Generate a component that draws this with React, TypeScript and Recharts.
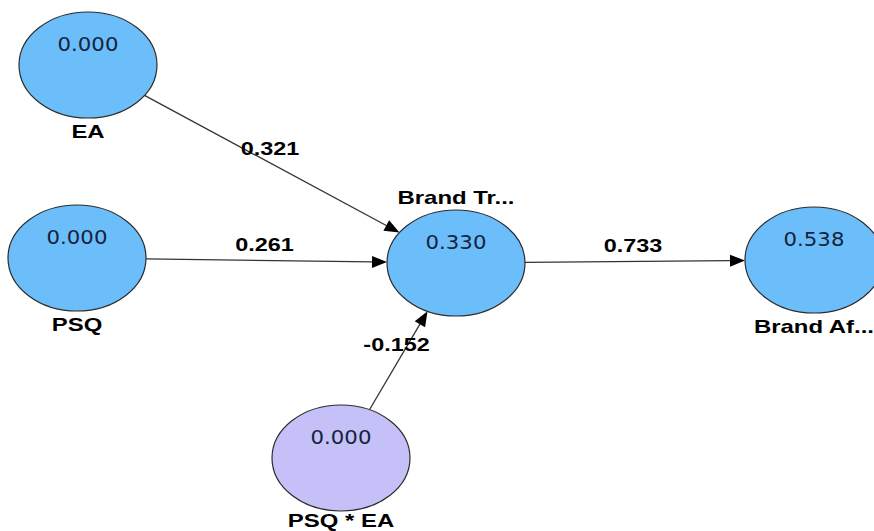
import { ScatterChart, Scatter, XAxis, YAxis, ReferenceLine } from "recharts";

const nodeNames = ["EA", "PSQ", "Brand Tr...", "Brand Af...", "PSQ * EA"];
const nodeValues = ["0.000", "0.000", "0.330", "0.538", "0.000"];
const nodeX = [88, 77, 456, 814, 341];
const nodeY = [65, 258, 263, 260, 458];
const labelAbove = [false, false, true, false, false];
const moderator = [false, false, false, false, true];

const edgeFrom = [0, 1, 2, 4];
const edgeTo = [2, 2, 3, 2];
const edgeCoef = ["0.321", "0.261", "0.733", "-0.152"];

const nodes = nodeNames.map((name, i) => ({
  name,
  value: nodeValues[i],
  x: nodeX[i],
  y: nodeY[i],
  above: labelAbove[i],
  mod: moderator[i],
}));

const RX = 69;
const RY = 53;
const BLUE = "#6cbefa";
const PURPLE = "#c5c1f8";

function Txt({ x, y, children, bold, fill, sx, size = 18 }: any) {
  return (
    <text
      transform={`translate(${x},${y}) scale(${sx},1)`}
      textAnchor="middle"
      fontFamily={bold ? "'Liberation Sans', Arial, sans-serif" : "'DejaVu Sans', Verdana, sans-serif"}
      fontWeight={bold ? 700 : 400}
      fontSize={size}
      fill={fill}
    >
      {children}
    </text>
  );
}

function NodeShape(props: any) {
  const { cx, cy, payload } = props;
  // keep the bottom label inside the picture
  const labelY = payload.above ? cy - 66 : Math.min(cy + 66, 520);
  return (
    <g>
      <ellipse cx={cx} cy={cy} rx={RX} ry={RY} fill={payload.mod ? PURPLE : BLUE} stroke="#2b2b2b" strokeWidth={1.2} />
      <Txt x={cx} y={cy - 21 + 7} fill="#15233c" sx={1.12} size={19}>
        {payload.value}
      </Txt>
      <Txt x={cx} y={labelY + 6.5} bold fill="#000" sx={1.33}>
        {payload.name}
      </Txt>
    </g>
  );
}

function trim(dx: number, dy: number) {
  const len = Math.hypot(dx, dy);
  const ux = dx / len;
  const uy = dy / len;
  const t = 1 / Math.sqrt((ux / RX) ** 2 + (uy / RY) ** 2);
  return { ux, uy, t };
}

function edgeShape(coef: string) {
  return (p: any) => {
    const { x1, y1, x2, y2 } = p;
    if (x1 == null) return null;
    const { ux, uy, t } = trim(x2 - x1, y2 - y1);
    const sx = x1 + ux * t;
    const sy = y1 + uy * t;
    const ex = x2 - ux * t;
    const ey = y2 - uy * t;
    const L = 15;
    const W = 6;
    const bx = ex - ux * L;
    const by = ey - uy * L;
    const head = `${ex},${ey} ${bx - uy * W},${by + ux * W} ${bx + uy * W},${by - ux * W}`;
    const mx = (x1 + x2) / 2;
    const my = (y1 + y2) / 2;
    return (
      <g>
        <line x1={sx} y1={sy} x2={bx} y2={by} stroke="#333" strokeWidth={1.3} />
        <polygon points={head} fill="#000" />
        <Txt x={mx - 2} y={my - 16 + 6.5} bold fill="#000" sx={1.3}>
          {coef}
        </Txt>
      </g>
    );
  };
}

export default function App() {
  return (
    <div style={{ position: "absolute", left: 0, top: 0, background: "#fff" }}>
      <ScatterChart width={874} height={531} margin={{ top: 0, right: 0, bottom: 0, left: 0 }}>
        <XAxis type="number" dataKey="x" domain={[0, 874]} hide />
        <YAxis type="number" dataKey="y" domain={[0, 531]} reversed hide />
        {edgeFrom.map((f, i) => (
          <ReferenceLine
            key={i}
            segment={[
              { x: nodeX[f], y: nodeY[f] },
              { x: nodeX[edgeTo[i]], y: nodeY[edgeTo[i]] },
            ]}
            ifOverflow="visible"
            shape={edgeShape(edgeCoef[i])}
          />
        ))}
        <Scatter data={nodes} shape={NodeShape} isAnimationActive={false} />
      </ScatterChart>
    </div>
  );
}
